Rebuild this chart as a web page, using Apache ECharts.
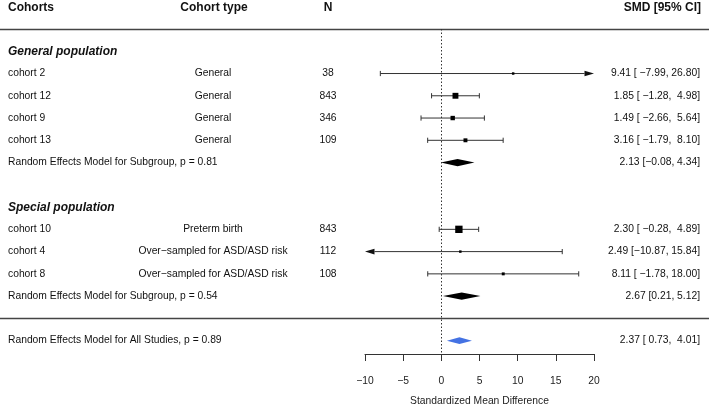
<!DOCTYPE html>
<html>
<head>
<meta charset="utf-8">
<style>html,body{margin:0;padding:0;background:#fff;}#chart{width:709px;height:406px;}</style>
<script src="https://cdn.jsdelivr.net/npm/echarts@6/dist/echarts.min.js"></script>
</head>
<body>
<div id="chart"></div>
<script>
// ---------- data ----------
const headers = ["Cohorts", "Cohort type", "N", "SMD [95% CI]"];
const subgroupNames = ["General population", "Special population"];
const subgroupRows = [2, 9];

const cohorts = ["cohort 2", "cohort 12", "cohort 9", "cohort 13", "cohort 10", "cohort 4", "cohort 8"];
const cohortTypes = ["General", "General", "General", "General", "Preterm birth",
  "Over\u2212sampled for ASD/ASD risk", "Over\u2212sampled for ASD/ASD risk"];
const sampleN = [38, 843, 346, 109, 843, 112, 108];
const smd = [9.41, 1.85, 1.49, 3.16, 2.30, 2.49, 8.11];
const ciLower = [-7.99, -1.28, -2.66, -1.79, -0.28, -10.87, -1.78];
const ciUpper = [26.80, 4.98, 5.64, 8.10, 4.89, 15.84, 18.00];
const weights = [4.2, 24, 13.4, 10.7, 37.5, 4.2, 6];   // approx. % weight (box size)
const studyRows = [3, 4, 5, 6, 10, 11, 12];

const reLabels = ["Random Effects Model for Subgroup, p = 0.81", "Random Effects Model for Subgroup, p = 0.54"];
const reEst = [2.13, 2.67];
const reLower = [-0.08, 0.21];
const reUpper = [4.34, 5.12];
const reRows = [7, 13];

const overallLabel = "Random Effects Model for All Studies, p = 0.89";
const overallEst = 2.37, overallLower = 0.73, overallUpper = 4.01;
const overallRow = 15;

const separatorRows = [1, 14];
const xTicks = { min: -10, max: 20, interval: 5 };
const axisTitle = "Standardized Mean Difference";

// ---------- helpers ----------
const FONT = "'Liberation Sans', Arial, Helvetica, sans-serif";
const FS = 10.3;
const TXT = '#111';
const fmt = v => (v < 0 ? '\u2212' : '') + Math.abs(v).toFixed(2);
const pad = (s, n) => s.length >= n ? s : ' '.repeat(n - s.length) + s;
const ciStudy = i => `${fmt(smd[i])} [${pad(fmt(ciLower[i]), 6)}, ${pad(fmt(ciUpper[i]), 5)}]`;
const ciRE = i => `${fmt(reEst[i])} [${fmt(reLower[i])}, ${fmt(reUpper[i])}]`;
const ciOverall = `${fmt(overallEst)} [${pad(fmt(overallLower), 5)}, ${pad(fmt(overallUpper), 5)}]`;

// columns (layout)
const COL = { name: 8, type: 213, n: 328, ci: 700 };

// table text items
const tableItems = [];
tableItems.push({ kind: 'header', row: 0 });
separatorRows.forEach(r => tableItems.push({ kind: 'sep', row: r }));
subgroupNames.forEach((g, i) => tableItems.push({ kind: 'group', row: subgroupRows[i], text: g }));
cohorts.forEach((c, i) => tableItems.push({ kind: 'study', row: studyRows[i], i }));
reLabels.forEach((l, i) => tableItems.push({ kind: 're', row: reRows[i], i }));
tableItems.push({ kind: 'overall', row: overallRow });

function txt(x, y, text, align, opts) {
  opts = opts || {};
  return {
    type: 'text', x: x, y: y, silent: true,
    style: {
      text: text, align: align, verticalAlign: 'middle', fill: TXT,
      fontFamily: FONT, fontSize: opts.size || FS,
      fontWeight: opts.weight || 'normal', fontStyle: opts.style || 'normal'
    }
  };
}

const chart = echarts.init(document.getElementById('chart'), null, { renderer: 'canvas' });

const option = {
  animation: false,
  backgroundColor: '#fff',
  grid: { left: 365, width: 229, top: 29, bottom: 52, containLabel: false, outerBoundsMode: 'none' },
  xAxis: {
    type: 'value', min: xTicks.min, max: xTicks.max, interval: xTicks.interval,
    splitLine: { show: false },
    axisLine: { show: true, onZero: false, lineStyle: { color: '#333', width: 1 } },
    axisTick: { show: true, length: 7, inside: false, lineStyle: { color: '#333', width: 1 } },
    axisLabel: {
      color: '#222', fontSize: FS, fontFamily: FONT, margin: 22,
      formatter: v => (v < 0 ? '\u2212' + Math.abs(v) : String(v))
    },
    name: axisTitle, nameLocation: 'middle', nameGap: 42,
    nameTextStyle: { color: '#222', fontSize: FS, fontFamily: FONT }
  },
  yAxis: { type: 'value', inverse: true, min: 1, max: 15.6, show: false },
  series: [
    // study CIs + boxes
    {
      type: 'custom', clip: false,
      data: smd.map((e, i) => [e, ciLower[i], ciUpper[i], studyRows[i], weights[i]]),
      encode: { x: [0, 1, 2], y: 3 },
      renderItem: function (params, api) {
        const est = api.value(0), lo = api.value(1), hi = api.value(2), row = api.value(3), w = api.value(4);
        const y = api.coord([0, row])[1];
        const xMin = api.coord([xTicks.min, row])[0], xMax = api.coord([xTicks.max, row])[0];
        const xl = api.coord([lo, row])[0], xh = api.coord([hi, row])[0], xe = api.coord([est, row])[0];
        const clipL = lo < xTicks.min, clipR = hi > xTicks.max;
        const AL = 9.5, AH = 2.8, TH = 2.6;
        const ch = [];
        const x1 = clipL ? xMin + AL : xl, x2 = clipR ? xMax - AL : xh;
        ch.push({ type: 'line', shape: { x1: x1, y1: y, x2: x2, y2: y }, style: { stroke: '#333', lineWidth: 1 } });
        if (clipL) ch.push({ type: 'polygon', shape: { points: [[xMin, y], [xMin + AL, y - AH], [xMin + AL, y + AH]] }, style: { fill: '#111' } });
        else ch.push({ type: 'line', shape: { x1: xl, y1: y - TH, x2: xl, y2: y + TH }, style: { stroke: '#333', lineWidth: 1 } });
        if (clipR) ch.push({ type: 'polygon', shape: { points: [[xMax, y], [xMax - AL, y - AH], [xMax - AL, y + AH]] }, style: { fill: '#111' } });
        else ch.push({ type: 'line', shape: { x1: xh, y1: y - TH, x2: xh, y2: y + TH }, style: { stroke: '#333', lineWidth: 1 } });
        const s = 1.2 * Math.sqrt(w);
        ch.push({ type: 'rect', shape: { x: xe - s / 2, y: y - s / 2, width: s, height: s }, style: { fill: '#000' } });
        return { type: 'group', children: ch };
      },
      markLine: {
        silent: true, symbol: ['none', 'none'], label: { show: false },
        lineStyle: { type: [1.5, 2], color: '#333', width: 1 },
        data: [{ xAxis: 0 }]
      },
      z: 3
    },
    // diamonds
    {
      type: 'custom', clip: false,
      data: reEst.map((e, i) => [e, reLower[i], reUpper[i], reRows[i], 0])
        .concat([[overallEst, overallLower, overallUpper, overallRow, 1]]),
      encode: { x: [0, 1, 2], y: 3 },
      renderItem: function (params, api) {
        const est = api.value(0), lo = api.value(1), hi = api.value(2), row = api.value(3), isAll = api.value(4);
        const y = api.coord([0, row])[1];
        const xl = api.coord([lo, row])[0], xh = api.coord([hi, row])[0], xe = api.coord([est, row])[0];
        const h = isAll ? 3.3 : 3.6;
        return {
          type: 'polygon',
          shape: { points: [[xl, y], [xe, y - h], [xh, y], [xe, y + h]] },
          style: { fill: isAll ? '#4472e3' : '#000' }
        };
      },
      z: 4
    },
    // table text + separators
    {
      type: 'custom', clip: false, silent: true,
      data: tableItems.map((t, i) => [0, t.row, i]),
      encode: { x: 0, y: 1 },
      renderItem: function (params, api) {
        const t = tableItems[api.value(2)];
        const y = api.coord([0, t.row])[1];
        const W = api.getWidth();
        switch (t.kind) {
          case 'header':
            return { type: 'group', children: [
              txt(COL.name, y + 0.5, headers[0], 'left', { weight: 'bold', size: 12 }),
              txt(COL.type + 1, y + 0.5, headers[1], 'center', { weight: 'bold', size: 12 }),
              txt(COL.n, y + 0.5, headers[2], 'center', { weight: 'bold', size: 12 }),
              txt(COL.ci + 1, y + 0.5, headers[3], 'right', { weight: 'bold', size: 12 })
            ] };
          case 'sep':
            return { type: 'line', shape: { x1: 0, y1: Math.round(y) + 0.5, x2: W, y2: Math.round(y) + 0.5 }, style: { stroke: '#444', lineWidth: 1.3 } };
          case 'group':
            return txt(COL.name, y + 0.5, t.text, 'left', { weight: 'bold', style: 'italic', size: 12 });
          case 'study':
            return { type: 'group', children: [
              txt(COL.name, y, cohorts[t.i], 'left'),
              txt(COL.type, y, cohortTypes[t.i], 'center'),
              txt(COL.n, y, String(sampleN[t.i]), 'center'),
              txt(COL.ci, y, ciStudy(t.i), 'right')
            ] };
          case 're':
            return { type: 'group', children: [
              txt(COL.name, y, reLabels[t.i], 'left'),
              txt(COL.ci, y, ciRE(t.i), 'right')
            ] };
          case 'overall':
            return { type: 'group', children: [
              txt(COL.name, y, overallLabel, 'left'),
              txt(COL.ci, y, ciOverall, 'right')
            ] };
        }
      },
      z: 2
    }
  ]
};
chart.setOption(option);
</script>
</body>
</html>
